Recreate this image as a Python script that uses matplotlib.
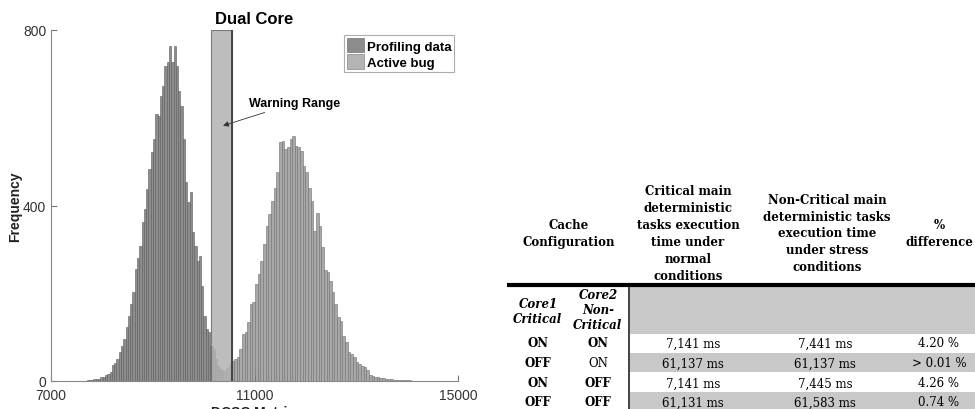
import numpy as np
import matplotlib.pyplot as plt
from matplotlib.patches import Rectangle

plt.rcParams['font.family'] = ['Liberation Sans', 'DejaVu Sans']

# histogram counts
profiling_counts = [2, 2, 3, 4, 5, 5, 8, 10, 14, 17, 20, 36, 42, 50, 65, 80, 96, 122,
                    149, 175, 202, 255, 280, 308, 362, 392, 437, 483, 521, 551, 608,
                    605, 650, 673, 718, 726, 764, 726, 764, 718, 662, 627, 551, 453,
                    408, 430, 339, 308, 274, 285, 217, 149, 118, 111, 80, 73, 50, 35,
                    27, 23, 20, 16, 12, 8, 5, 3, 2]
bug_counts = [2, 4, 8, 14, 22, 30, 38, 46, 50, 54, 73, 107, 111, 134, 176, 179, 221,
              244, 274, 312, 354, 381, 411, 441, 476, 544, 548, 529, 533, 552, 559,
              536, 533, 525, 489, 476, 441, 411, 343, 384, 354, 305, 252, 248, 229,
              202, 176, 145, 137, 103, 88, 65, 62, 54, 43, 39, 35, 31, 24, 14, 12, 10,
              8, 7, 6, 5, 4, 4, 3, 3, 3, 2, 2, 2, 2, 1, 1, 1, 1, 1]
profiling_start, profiling_bin = 7700, 45
bug_start, bug_bin = 10180, 52
warning_lo, warning_hi = 10150, 10560

x_ticks = [7000, 11000, 15000]
y_ticks = [0, 400, 800]

# table contents
headers = ['Cache\nConfiguration',
           'Critical main\ndeterministic\ntasks execution\ntime under\nnormal\nconditions',
           'Non-Critical main\ndeterministic tasks\nexecution time\nunder stress\nconditions',
           '%\ndifference']
core_heads = ['Core1\nCritical', 'Core2\nNon-\nCritical']
core1 = ['ON', 'OFF', 'ON', 'OFF']
core2 = ['ON', 'ON', 'OFF', 'OFF']
core2_bold = [True, False, True, True]
normal_ms = ['7,141 ms', '61,137 ms', '7,141 ms', '61,131 ms']
stress_ms = ['7,441 ms', '61,137 ms', '7,445 ms', '61,583 ms']
pct_diff = ['4.20 %', '> 0.01 %', '4.26 %', '0.74 %']

W, H = 975, 410
fig = plt.figure(figsize=(W / 100, H / 100), dpi=100)

# ---- histogram ----
ax = fig.add_axes([51 / W, 28 / H, 407 / W, 351 / H])
px = profiling_start + np.arange(len(profiling_counts)) * profiling_bin
bx = bug_start + np.arange(len(bug_counts)) * bug_bin
ax.bar(px, profiling_counts, width=profiling_bin, align='edge', color='#8c8c8c',
       edgecolor='#5e5e5e', linewidth=0.4, label='Profiling data')
ax.bar(bx, bug_counts, width=bug_bin, align='edge', color='#a8a8a8',
       edgecolor='#707070', linewidth=0.4, label='Active bug')
ax.add_patch(Rectangle((warning_lo, 0), warning_hi - warning_lo, 800, facecolor='#b2b2b2',
                       alpha=0.85, edgecolor='#6a6a6a', linewidth=0.8, zorder=3))
ax.axvline(warning_hi, color='#444444', lw=1.4, zorder=4)

ax.set_xlim(7000, 15000)
ax.set_ylim(0, 800)
ax.set_xticks(x_ticks)
ax.set_yticks(y_ticks)
ax.tick_params(direction='in', length=4, colors='#777777', labelcolor='#333333', labelsize=10)
ax.tick_params(axis='x', pad=5)
for s in ['top', 'right']:
    ax.spines[s].set_visible(False)
for s in ['left', 'bottom']:
    ax.spines[s].set_color('#888888')

ax.text(0.5, 1.032, 'Dual Core', transform=ax.transAxes, ha='center', va='center',
        fontsize=12, fontweight='bold')
fig.text(15 / W, 1 - 207 / H, 'Frequency', rotation=90, ha='center', va='center',
         fontsize=10, fontweight='bold', color='#222222')
fig.text(253 / W, 1 - 413 / H, 'DCSC Metric', ha='center', va='center',
         fontsize=10, fontweight='bold', color='#222222')

ax.annotate('Warning Range', xy=(10330, 580), xytext=(10900, 634), fontsize=9,
            fontweight='bold', va='center',
            arrowprops=dict(arrowstyle='-|>', color='#333333', lw=0.6, mutation_scale=8))

leg = ax.legend(loc='upper right', bbox_to_anchor=(0.99, 0.985), fancybox=False,
                prop={'weight': 'bold', 'size': 9.5}, handlelength=1.3, handleheight=1.3,
                handletextpad=0.2, borderpad=0.2, labelspacing=0.15, borderaxespad=0)
leg.get_frame().set_edgecolor('#999999')
leg.get_frame().set_linewidth(0.8)
leg.legend_handles[1].set_facecolor('#b4b4b4')

# ---- table ----
tab = fig.add_axes([0, 0, 1, 1])
tab.set_xlim(0, W)
tab.set_ylim(H, 0)
tab.axis('off')

serif = 'DejaVu Serif'
fs = 8.5
col_x = [569, 688, 827, 939]
for x, h in zip(col_x, headers):
    tab.text(x, 234, h, ha='center', va='center', family=serif, fontsize=fs,
             fontweight='bold', linespacing=1.39)

tab.plot([507, W], [286, 286], color='black', lw=3, solid_capstyle='butt')
tab.add_patch(Rectangle((630, 288), W - 630, 47, facecolor='#c8c8c8', edgecolor='none'))
row_top = [335, 354, 373, 393]
row_h = [19, 19, 20, 19]
for i, (t, h) in enumerate(zip(row_top, row_h)):
    if i % 2 == 1:
        tab.add_patch(Rectangle((630, t), W - 630, h, facecolor='#c8c8c8', edgecolor='none'))
tab.plot([629, 629], [288, H], color='#222222', lw=1.2)

tab.text(538, 312, core_heads[0], ha='center', va='center', family=serif, fontsize=fs,
         fontweight='bold', style='italic', linespacing=1.15)
tab.text(598, 311, core_heads[1], ha='center', va='center', family=serif, fontsize=fs,
         fontweight='bold', style='italic', linespacing=1.2)

row_y = [344, 364, 384, 403]
for i, y in enumerate(row_y):
    tab.text(538, y, core1[i], ha='center', va='center', family=serif, fontsize=fs,
             fontweight='bold')
    tab.text(598, y, core2[i], ha='center', va='center', family=serif, fontsize=fs,
             fontweight='bold' if core2_bold[i] else 'normal')
    tab.text(693, y, normal_ms[i], ha='center', va='center', family=serif, fontsize=fs)
    tab.text(825, y, stress_ms[i], ha='center', va='center', family=serif, fontsize=fs)
    tab.text(939, y, pct_diff[i], ha='center', va='center', family=serif, fontsize=fs)

fig.savefig('out.png', dpi=100)
